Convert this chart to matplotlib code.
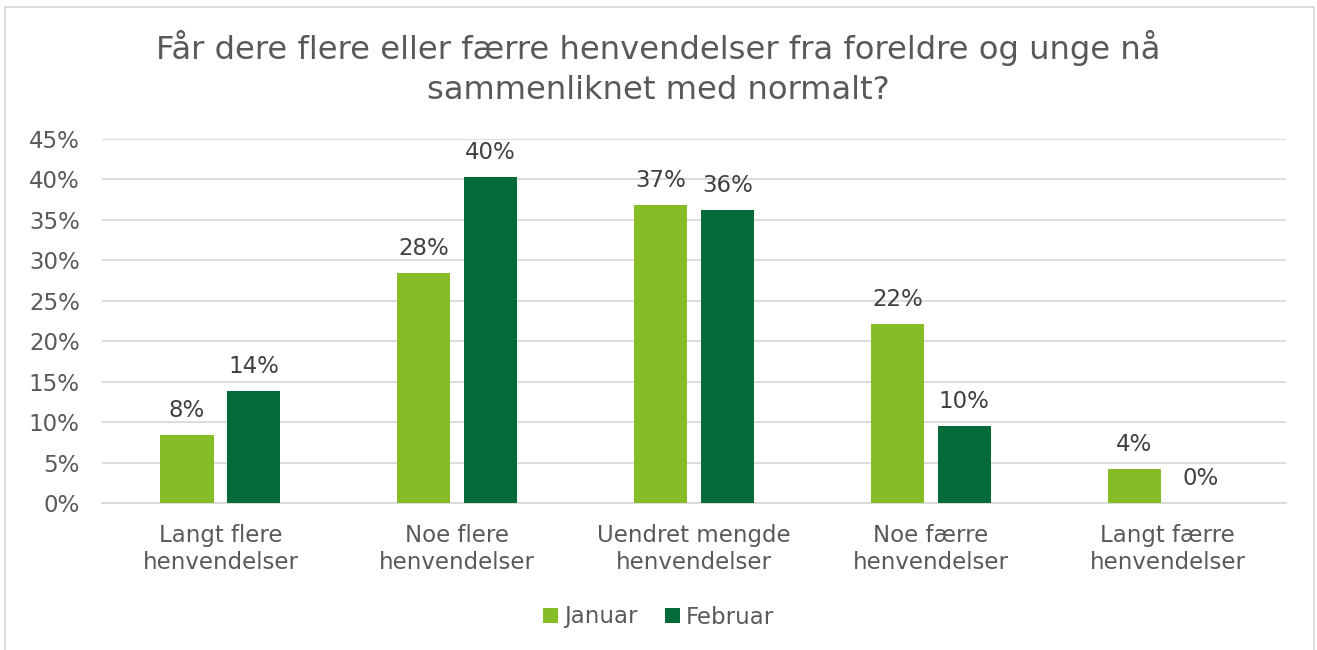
import numpy as np
import matplotlib.pyplot as plt
from matplotlib.patches import Rectangle

# data
CATEGORIES = ['Langt flere\nhenvendelser', 'Noe flere\nhenvendelser',
              'Uendret mengde\nhenvendelser', 'Noe færre\nhenvendelser',
              'Langt færre\nhenvendelser']
JANUAR = [0.084, 0.284, 0.368, 0.221, 0.042]
FEBRUAR = [0.138, 0.403, 0.362, 0.095, 0.0]
SERIES = ['Januar', 'Februar']
TITLE = 'Får dere flere eller færre henvendelser fra foreldre og unge nå\nsammenliknet med normalt?'

COL_JAN = '#86BC25'
COL_FEB = '#046A38'
GRID = '#D9D9D9'
TXT = '#595959'
LBL = '#404040'

plt.rcParams['font.family'] = ['DejaVu Sans']

W, H = 1317, 650
fig = plt.figure(figsize=(W / 100, H / 100), dpi=100)
ax = fig.add_axes([102 / W, 1 - 503 / H, (1286 - 102) / W, (503 - 139) / H])

x = np.arange(len(CATEGORIES))
BAR_W = 0.224
OFF = 0.141

b1 = ax.bar(x - OFF, JANUAR, BAR_W, color=COL_JAN, label=SERIES[0], zorder=3)
b2 = ax.bar(x + OFF, FEBRUAR, BAR_W, color=COL_FEB, label=SERIES[1], zorder=3)

for bars, vals in ((b1, JANUAR), (b2, FEBRUAR)):
    for r, v in zip(bars, vals):
        ax.annotate(f'{v * 100:.0f}%', (r.get_x() + r.get_width() / 2, v),
                    xytext=(0, 13), textcoords='offset points',
                    ha='center', va='baseline', fontsize=16.5, color=LBL)

ax.set_xlim(-0.5, len(CATEGORIES) - 0.5)
ax.set_ylim(0, 0.45)
ax.set_yticks(np.arange(0, 0.451, 0.05))
ax.set_yticklabels([f'{t * 100:.0f}%' for t in np.arange(0, 0.451, 0.05)])
ax.set_xticks(x)
ax.set_xticklabels(CATEGORIES, linespacing=1.22)
ax.tick_params(axis='both', length=0, labelsize=16.5, labelcolor=TXT)
ax.tick_params(axis='x', pad=15)
ax.tick_params(axis='y', pad=16)

ax.grid(axis='y', color=GRID, linewidth=1.3, zorder=0)
for s in ('top', 'right', 'left'):
    ax.spines[s].set_visible(False)
ax.spines['bottom'].set_color(GRID)
ax.spines['bottom'].set_linewidth(1.3)

fig.text(0.5, 1 - 68 / H, TITLE, ha='center', va='center', fontsize=23.2,
         color=TXT, linespacing=1.36)

fig.legend(handles=[b1, b2], labels=SERIES, loc='center',
           bbox_to_anchor=(0.5, 1 - 617 / H), ncol=2, frameon=False,
           fontsize=16.5, labelcolor=TXT, handlelength=0.65, handleheight=0.65,
           handletextpad=0.25, columnspacing=1.2)

fig.patches.append(Rectangle((5 / W, -0.05), (1314 - 5) / W, 1.05 - 7 / H,
                             transform=fig.transFigure, fill=False,
                             edgecolor=GRID, linewidth=1.3))

fig.savefig('out.png', dpi=100, facecolor='white')
